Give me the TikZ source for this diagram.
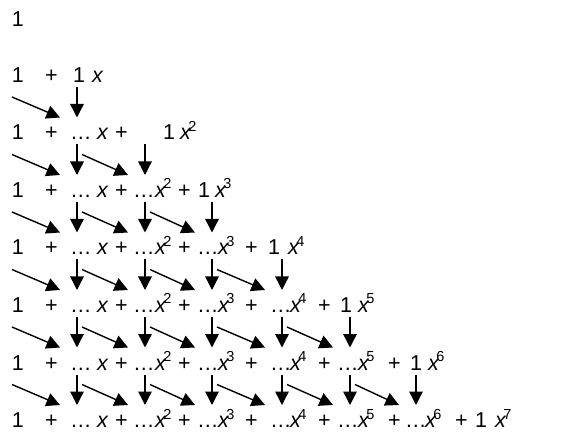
\documentclass[tikz,border=0pt]{standalone}
\usepackage{fontspec}
\setmainfont{Liberation Sans}
\usetikzlibrary{arrows.meta}
\newcommand\xpow[1]{\ifnum#1=1 \textit{x}\else\textit{x}\kern-3pt\raisebox{8.5pt}{\fontsize{14.5}{14.5}\selectfont #1}\fi}
\begin{document}
\begin{tikzpicture}[x=1pt,y=1pt,
  txt/.style={anchor=base west, inner sep=0pt, outer sep=0pt, font=\fontsize{21.5}{21.5}\selectfont},
  arr/.style={line width=1.4pt, -{Triangle[length=13.5pt,width=13.5pt]}}]
\useasboundingbox (0,0) rectangle (562,434);
\node[txt] (r0c0) at (12,407) {1};
\foreach \k in {1,...,7} {
  \pgfmathsetmacro\b{434-(82.5+57.5*(\k-1))}
  \node[txt] (r\k c0) at (12,\b) {1};
  \node[txt] (r\k p0) at (45,\b) {+};
  \ifnum\k>1
    \foreach \j in {1,...,\numexpr\k-1\relax} {
      \pgfmathsetmacro\dx{{70,133,197,270,337,405}[\j-1]}
      \pgfmathsetmacro\xx{{97,155,218,290,358,425}[\j-1]}
      \pgfmathsetmacro\px{{115,178,245,318,388,455}[\j-1]}
      \node[txt] (r\k d\j) at (\dx,\b) {\dots};
      \node[txt] (r\k x\j) at (\xx,\b) {\xpow{\j}};
      \node[txt] (r\k p\j) at (\px,\b) {+};
    }
  \fi
  \pgfmathsetmacro\ox{{73,163,198,268,340,410,475}[\k-1]}
  \pgfmathsetmacro\fx{{92,180,215,288,358,428,495}[\k-1]}
  \node[txt] (r\k one) at (\ox,\b) {1};
  \node[txt] (r\k xf) at (\fx,\b) {\xpow{\k}};
}
\foreach \k in {1,...,6} {
  \pgfmathsetmacro\ya{434-(75+57.5*(\k-1))}
  \pgfmathsetmacro\yb{\ya-57.5}
  \foreach \j in {1,...,\k} {
    \pgfmathsetmacro\vx{{77,145,212,282,350,416}[\j-1]}
    \pgfmathsetmacro\sx{{12,82,150,217,287,355}[\j-1]}
    \coordinate (vs\k\j) at (\vx,\ya-12);
    \coordinate (ve\k\j) at (\vx,\yb+15);
    \coordinate (ds\k\j) at (\sx,\ya-22);
    \coordinate (de\k\j) at (\vx-17,\yb+15);
    \draw[arr] (vs\k\j) -- (ve\k\j);
    \draw[arr] (ds\k\j) -- (de\k\j);
  }
}
\end{tikzpicture}
\end{document}
